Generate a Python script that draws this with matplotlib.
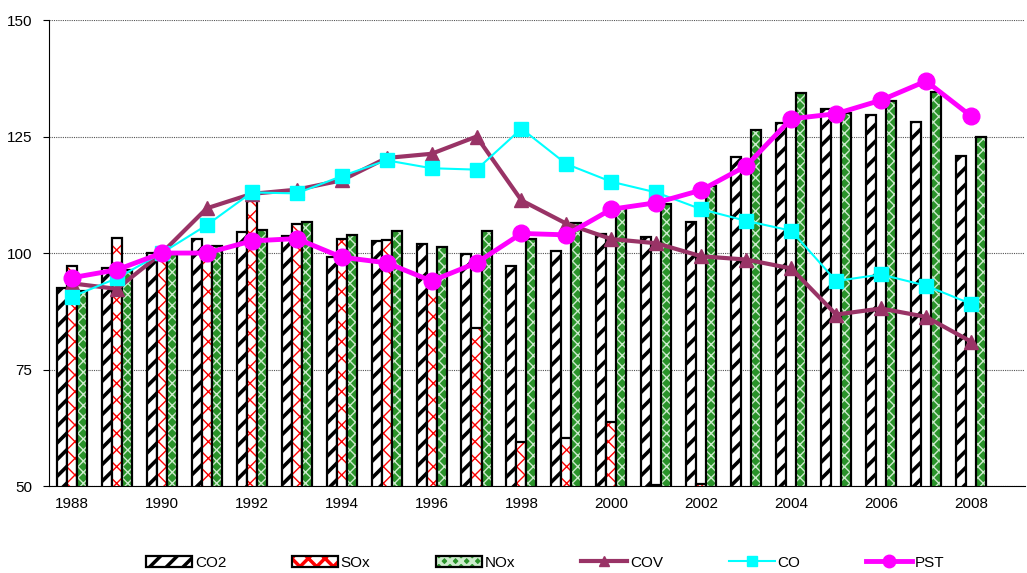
import matplotlib
matplotlib.use("Agg")
import matplotlib.pyplot as plt
import numpy as np
from matplotlib.patches import Patch
from matplotlib.legend_handler import HandlerTuple

plt.rcParams["font.family"] = ["Liberation Sans", "DejaVu Sans"]
plt.rcParams["font.size"] = 11
plt.rcParams["hatch.linewidth"] = 2.5

years = list(range(1988, 2009))
co2 = [92.6, 96.8, 100.1, 103.1, 104.6, 103.6, 99.2, 102.6, 101.9, 99.8, 97.2,
       100.4, 104.0, 103.5, 106.6, 120.7, 127.8, 131.0, 129.6, 128.2, 120.8]
sox = [97.2, 103.2, 100.0, 100.5, 112.0, 106.2, 103.1, 102.7, 95.0, 84.0, 59.5,
       60.2, 63.8, 50.3, 50.4, 49.5, 49.5, 49.5, 49.5, 49.5, 49.5]
nox = [91.8, 96.4, 100.0, 101.5, 104.9, 106.7, 103.8, 104.7, 101.4, 104.7, 103.1,
       106.5, 109.6, 110.5, 114.4, 126.4, 134.3, 130.0, 132.7, 134.6, 125.0]
cov = [93.5, 92.3, 100.0, 109.6, 112.7, 113.6, 115.6, 120.4, 121.3, 125.0, 111.3,
       106.3, 103.0, 102.1, 99.3, 98.6, 96.7, 86.8, 88.1, 86.3, 81.0]
co = [90.6, 94.6, 100.0, 106.0, 113.0, 112.8, 116.5, 119.9, 118.2, 117.9, 126.7,
      119.1, 115.3, 113.0, 109.4, 106.9, 104.8, 94.0, 95.4, 93.0, 89.1]
pst = [94.7, 96.4, 100.0, 100.0, 102.6, 103.1, 99.1, 97.9, 94.0, 97.9, 104.2,
       103.9, 109.4, 110.8, 113.5, 118.7, 128.8, 129.9, 132.8, 136.9, 129.4]

x = np.arange(len(years))
w = 0.223

fig = plt.figure(figsize=(10.27, 5.73), dpi=100)
ax = fig.add_axes([0.0477, 0.1518, 0.9503, 0.8132])


def hatched_bars(xpos, vals, face, hatch, hcolor, hlw):
    layer = ax.bar(xpos, vals, w, color=face, hatch=hatch, edgecolor=hcolor,
                   linewidth=0, zorder=2)
    for p in layer:
        if hasattr(p, "set_hatch_linewidth"):
            p.set_hatch_linewidth(hlw)
    ax.bar(xpos, vals, w, fill=False, edgecolor="black", linewidth=1.6, zorder=2)
    proxy_h = Patch(facecolor=face, hatch=hatch, edgecolor=hcolor, linewidth=0)
    if hasattr(proxy_h, "set_hatch_linewidth"):
        proxy_h.set_hatch_linewidth(hlw)
    proxy_o = Patch(fill=False, edgecolor="black", linewidth=1.6)
    return (proxy_h, proxy_o)


h_co2 = hatched_bars(x - w, co2, "white", "//", "black", 2.6)
h_sox = hatched_bars(x, sox, "white", "xx", "red", 1.0)
h_nox = hatched_bars(x + w, nox, "#2a932a", "xxx", "#cdeccd", 1.0)

l_cov, = ax.plot(x, cov, color="#993366", lw=3, marker="^", ms=10, zorder=4)
l_co, = ax.plot(x, co, color="cyan", lw=1.5, marker="s", ms=10, zorder=5)
l_pst, = ax.plot(x, pst, color="magenta", lw=3.5, marker="o", ms=12, zorder=6)

ax.set_ylim(50, 150)
ax.set_xlim(-0.51, 21.2)
ax.set_yticks([50, 75, 100, 125, 150])
ax.set_xticks(x[::2])
ax.set_xticklabels([str(y) for y in years[::2]])
ax.tick_params(axis="x", length=0, pad=8)
ax.tick_params(axis="y", length=4, pad=8)
ax.yaxis.grid(True, linestyle=(0, (1, 1)), color="#555555", lw=0.8)
ax.set_axisbelow(True)
for s in ["top", "right"]:
    ax.spines[s].set_visible(False)

fig.legend([h_co2, h_sox, h_nox, l_cov, l_co, l_pst],
           ["CO2", "SOx", "NOx", "COV", "CO", "PST"],
           handler_map={tuple: HandlerTuple(ndivide=1)},
           loc="center", bbox_to_anchor=(0.531, 0.018), ncol=6, frameon=False,
           handlelength=3, handletextpad=0.2, columnspacing=4.3, markerscale=0.75)

fig.savefig("out.png", dpi=100)
